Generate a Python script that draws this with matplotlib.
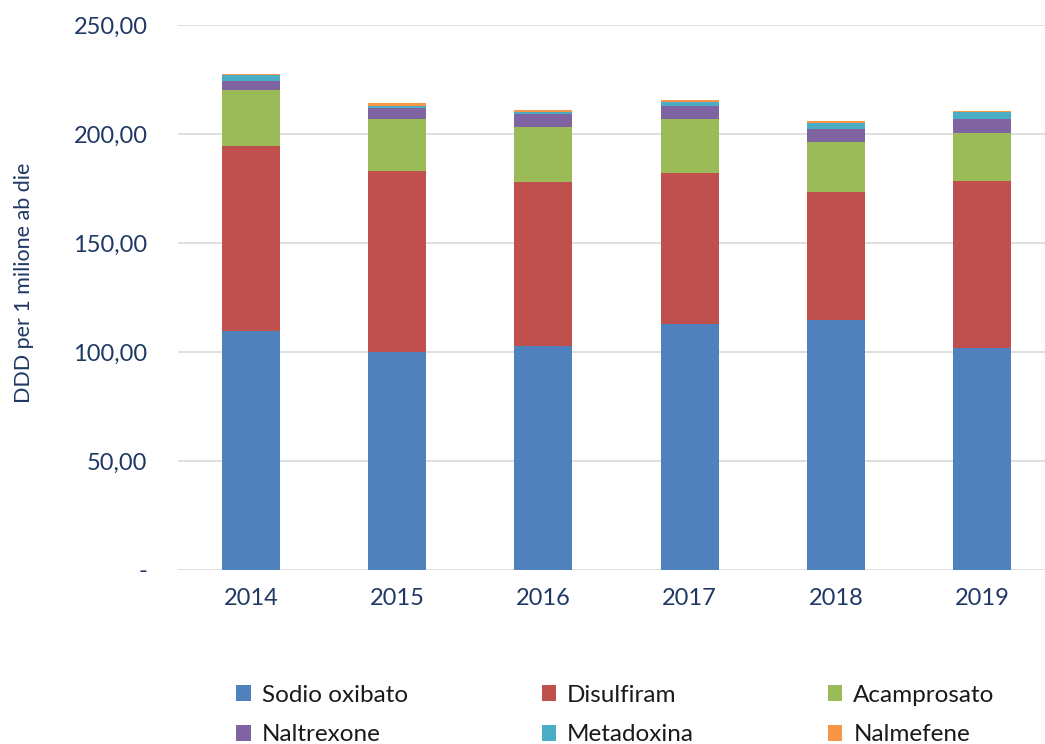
import numpy as np
import matplotlib.pyplot as plt
from matplotlib.ticker import FuncFormatter

years = ['2014', '2015', '2016', '2017', '2018', '2019']
sodio_oxibato = [109.6, 100.0, 102.8, 112.8, 114.7, 101.8]
disulfiram = [84.9, 83.0, 75.2, 69.2, 58.7, 76.6]
acamprosato = [25.7, 23.7, 25.4, 24.9, 22.9, 22.1]
naltrexone = [4.1, 5.4, 5.8, 5.8, 6.0, 6.4]
metadoxina = [2.8, 0.7, 0.9, 2.1, 2.7, 3.1]
nalmefene = [0.5, 1.4, 0.9, 1.0, 0.8, 0.6]

series = [
    ('Sodio oxibato', sodio_oxibato, '#4F81BD'),
    ('Disulfiram', disulfiram, '#C0504D'),
    ('Acamprosato', acamprosato, '#9BBB59'),
    ('Naltrexone', naltrexone, '#8064A2'),
    ('Metadoxina', metadoxina, '#4BACC6'),
    ('Nalmefene', nalmefene, '#F79646'),
]

plt.rcParams['font.family'] = ['Lato', 'DejaVu Sans']
text_col = '#1F3864'

fig = plt.figure(figsize=(10.45, 7.44), dpi=100)
ax = fig.add_axes([178 / 1045, 1 - 570 / 744, 877 / 1045, 545 / 744])

x = np.arange(len(years))
bottom = np.zeros(len(years))
handles = {}
for name, vals, col in series:
    vals = np.array(vals)
    h = ax.bar(x, vals, 0.397, bottom=bottom, color=col, label=name, zorder=3)
    handles[name] = h
    bottom += vals

ax.set_xlim(-0.5, len(years) - 0.5)
ax.set_ylim(0, 250)
ax.set_yticks(np.arange(0, 251, 50))
ax.yaxis.set_major_formatter(FuncFormatter(
    lambda v, p: '-' if v == 0 else f'{v:.2f}'.replace('.', ',')))
ax.set_xticks(x)
ax.set_xticklabels(years)
ax.grid(axis='y', color='#D9D9D9', linewidth=1.2, zorder=0)
for s in ax.spines.values():
    s.set_visible(False)
ax.tick_params(axis='both', length=0, labelsize=17, colors=text_col)
ax.tick_params(axis='y', pad=22)
ax.tick_params(axis='x', pad=13)
ax.set_ylabel('DDD per 1 milione ab die', fontsize=15.5, color=text_col)
ax.yaxis.set_label_coords(-144 / 877, 0.527)

order = ['Sodio oxibato', 'Naltrexone', 'Disulfiram', 'Metadoxina', 'Acamprosato', 'Nalmefene']
fig.legend([handles[n] for n in order], order, ncol=3, loc='center',
           bbox_to_anchor=(0.589, 1 - 715 / 744), frameon=False,
           fontsize=17.5, handlelength=0.6, handleheight=0.6, handletextpad=0.45,
           columnspacing=5.5, labelspacing=0.78, labelcolor='#1a1a1a')

fig.savefig('out.png', dpi=100)
